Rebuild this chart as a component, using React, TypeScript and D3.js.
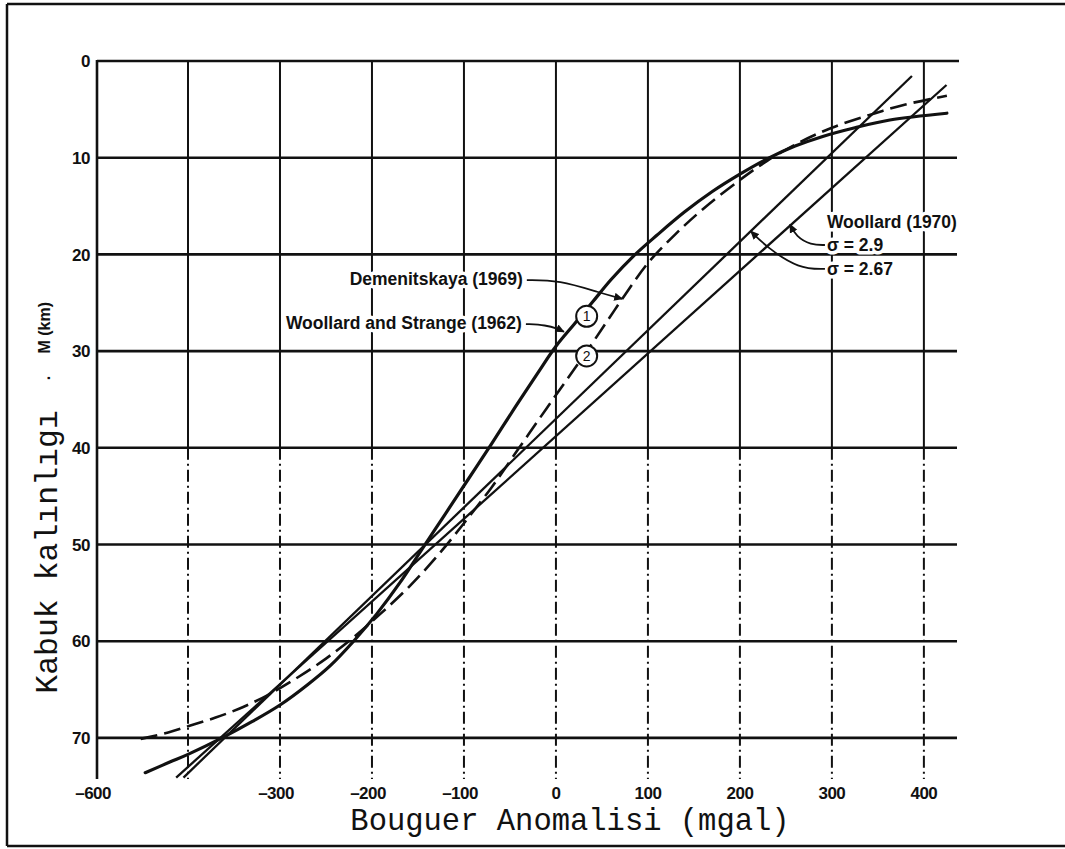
import React from "react";
import * as d3 from "d3";

type Pt = [number, number];

// Axis values
const xGridValues = [-400, -300, -200, -100, 0, 100, 200, 300, 400];
const xTickLabels = [-600, -300, -200, -100, 0, 100, 200, 300, 400];
const yTickValues = [0, 10, 20, 30, 40, 50, 60, 70];

// Series: [Bouguer anomaly (mgal), crustal thickness (km)]
const woollardStrange1962: Pt[] = [
  [-494, 73.6], [-440, 72.5], [-400, 71.7], [-363, 70.0], [-330, 68.3], [-300, 66.6],
  [-270, 64.5], [-245, 62.5], [-220, 60.0], [-195, 57.2], [-170, 54.0], [-145, 50.4],
  [-120, 46.8], [-95, 43.2], [-70, 39.6], [-45, 35.9], [-20, 32.3], [0, 29.5], [20, 27.2],
  [40, 24.9], [60, 22.6], [84, 20.2], [110, 18.0], [140, 15.6], [170, 13.5], [200, 11.7],
  [230, 10.1], [260, 8.8], [290, 7.8], [325, 6.9], [363, 6.1], [425, 5.4],
];

const demenitskaya1969: Pt[] = [
  [-504, 70.1], [-440, 69.4], [-400, 68.8], [-370, 67.9], [-340, 66.8], [-310, 65.4],
  [-280, 63.7], [-250, 61.8], [-220, 59.6], [-190, 57.1], [-160, 54.4], [-130, 51.3],
  [-100, 47.8], [-70, 44.1], [-40, 40.0], [-10, 35.9], [10, 33.2], [33, 30.1], [55, 27.0],
  [75, 24.2], [100, 20.9], [130, 17.9], [160, 15.3], [200, 12.3], [230, 10.3], [265, 8.4],
  [300, 6.9], [340, 5.6], [380, 4.5], [425, 3.6],
];

const woollard1970Sigma267: Pt[] = [[-410, 74.1], [387, 1.55]];
const woollard1970Sigma29: Pt[] = [[-426, 74.1], [424.6, 2.48]];

function xAtDepth(series: Pt[], depth: number): number {
  for (let i = 0; i < series.length - 1; i++) {
    const a = series[i];
    const b = series[i + 1];
    const lo = Math.min(a[1], b[1]);
    const hi = Math.max(a[1], b[1]);
    if (depth >= lo && depth <= hi) {
      const t = (depth - a[1]) / (b[1] - a[1]);
      return a[0] + t * (b[0] - a[0]);
    }
  }
  return series[series.length - 1][0];
}

const SANS = "'Liberation Sans', Arial, Helvetica, sans-serif";
const MONO = "'Liberation Mono', 'Courier New', Courier, monospace";

export default function App() {
  const W = 1065;
  const H = 849;
  const x = d3.scaleLinear().domain([-600, -400, 436]).range([97, 188, 957]);
  const y = d3.scaleLinear().domain([0, 74.25]).range([61, 779]);
  const xLeft = x(-600);
  const xRight = x(436);
  const yTop = y(0);
  const yBottom = y(74.25);
  const ySplit = y(40);

  const curve = d3
    .line<Pt>()
    .x((d) => x(d[0]))
    .y((d) => y(d[1]))
    .curve(d3.curveCatmullRom.alpha(0.5));
  const straight = d3
    .line<Pt>()
    .x((d) => x(d[0]))
    .y((d) => y(d[1]));
  const leader = d3.line<Pt>().curve(d3.curveBasis);

  // Annotation anchors
  const demLx = x(-36), demLy = y(22.55);
  const demTipD = 24.6;
  const demTx = x(xAtDepth(demenitskaya1969, demTipD)), demTy = y(demTipD);

  const wsLx = x(-37), wsLy = y(27.1);
  const wsTipD = 28.0;
  const wsTx = x(xAtDepth(woollardStrange1962, wsTipD)) - 4, wsTy = y(wsTipD);

  const wLx = x(294.6);
  const wTitleY = y(16.65);
  const s29Y = y(19.03);
  const s267Y = y(21.5);
  const s29TipD = 16.9;
  const s29Tx = x(xAtDepth(woollard1970Sigma29, s29TipD)) + 1, s29Ty = y(s29TipD);
  const s267TipD = 17.6;
  const s267Tx = x(xAtDepth(woollard1970Sigma267, s267TipD)) + 1, s267Ty = y(s267TipD);

  const c1 = { cx: x(33.4), cy: y(26.4) };
  const c2 = { cx: x(33.4), cy: y(30.5) };

  const halo = { stroke: "#fff", strokeWidth: 7, paintOrder: "stroke" as const, strokeLinejoin: "round" as const };

  return (
    <svg
      width={W}
      height={H}
      viewBox={`0 0 ${W} ${H}`}
      style={{ position: "fixed", left: 0, top: 0, background: "#fff" }}
    >
      <defs>
        <marker id="arr" viewBox="0 0 10 10" refX="9" refY="5" markerWidth="5" markerHeight="5" orient="auto">
          <path d="M0,0.5 L10,5 L0,9.5 z" fill="#111" />
        </marker>
      </defs>
      <rect x={0} y={0} width={W} height={H} fill="#fff" />

      {/* outer frame */}
      <g stroke="#111" strokeWidth={2.5} fill="none">
        <line x1={7} y1={4} x2={W} y2={4} />
        <line x1={7} y1={4} x2={7} y2={846} />
        <line x1={7} y1={846} x2={W} y2={846} />
      </g>

      {/* vertical grid */}
      <g stroke="#111" strokeWidth={2}>
        {xGridValues.map((v) => (
          <g key={`vg${v}`}>
            <line x1={x(v)} x2={x(v)} y1={yTop} y2={ySplit} />
            <line x1={x(v)} x2={x(v)} y1={ySplit} y2={yBottom} strokeDasharray="12,4,2,4" />
          </g>
        ))}
        <line x1={xLeft} x2={xLeft} y1={yTop - 1} y2={yBottom} strokeWidth={2.6} />
      </g>

      {/* horizontal grid */}
      <g stroke="#111" strokeWidth={2.6}>
        {yTickValues.map((v) => (
          <line key={`hg${v}`} x1={xLeft} x2={v === 0 ? xRight + 2 : xRight} y1={y(v)} y2={y(v)} />
        ))}
      </g>

      {/* y tick labels */}
      <g fontFamily={SANS} fontWeight="bold" fontSize={17} fill="#111" letterSpacing={-0.5}>
        {yTickValues.map((v) => (
          <text key={`yt${v}`} x={90} y={y(v)} dy="0.36em" textAnchor="end">
            {v}
          </text>
        ))}
      </g>

      {/* x tick labels */}
      <g fontFamily={SANS} fontWeight="bold" fontSize={17} fill="#111" letterSpacing={-0.5}>
        {xTickLabels.map((v) =>
          v < 0 ? (
            <text key={`xt${v}`} x={x(v) + 14} y={799} textAnchor="end">
              {"\u2013" + Math.abs(v)}
            </text>
          ) : (
            <text key={`xt${v}`} x={x(v)} y={799} textAnchor="middle">
              {v}
            </text>
          )
        )}
      </g>

      {/* axis titles */}
      <text x={570} y={830} textAnchor="middle" fontFamily={MONO} fontSize={30.5} fill="#111">
        Bouguer Anomalisi (mgal)
      </text>
      <text
        transform={`translate(57, 552) rotate(-90)`}
        textAnchor="middle"
        fontFamily={MONO}
        fontSize={31.5}
        fill="#111"
      >
        Kabuk kalınlıgı
      </text>
      <text
        transform={`translate(50, 302) rotate(-90)`}
        textAnchor="end"
        fontFamily={SANS}
        fontWeight="bold"
        fontSize={16}
        fill="#111"
      >
        M (km)
      </text>
      <text
        transform={`translate(50, 378) rotate(-90)`}
        textAnchor="middle"
        fontFamily={SANS}
        fontWeight="bold"
        fontSize={16}
        fill="#111"
      >
        .
      </text>

      {/* series */}
      <path d={straight(woollard1970Sigma267) || ""} fill="none" stroke="#111" strokeWidth={2.3} />
      <path d={straight(woollard1970Sigma29) || ""} fill="none" stroke="#111" strokeWidth={2.3} />
      <path
        d={curve(demenitskaya1969) || ""}
        fill="none"
        stroke="#111"
        strokeWidth={2.6}
        strokeDasharray="17,7"
      />
      <path d={curve(woollardStrange1962) || ""} fill="none" stroke="#111" strokeWidth={3.2} strokeLinecap="round" />

      {/* numbered circles */}
      {[{ c: c1, t: "1" }, { c: c2, t: "2" }].map(({ c, t }) => (
        <g key={t}>
          <circle cx={c.cx} cy={c.cy} r={10.5} fill="#fff" stroke="#111" strokeWidth={2} />
          <text x={c.cx} y={c.cy} dy="0.36em" textAnchor="middle" fontFamily={SANS} fontSize={14} fill="#111">
            {t}
          </text>
        </g>
      ))}

      {/* annotations */}
      <g fontFamily={SANS} fontWeight="bold" fontSize={17.5} fill="#111">
        <text x={demLx} y={demLy} dy="0.36em" textAnchor="end" {...halo}>
          Demenitskaya (1969)
        </text>
        <text x={wsLx} y={wsLy} dy="0.36em" textAnchor="end" {...halo}>
          Woollard and Strange (1962)
        </text>
        <text x={wLx} y={wTitleY} dy="0.36em" textAnchor="start" {...halo}>
          Woollard (1970)
        </text>
        <text x={wLx} y={s29Y} dy="0.36em" textAnchor="start" {...halo}>
          σ = 2.9
        </text>
        <text x={wLx} y={s267Y} dy="0.36em" textAnchor="start" {...halo}>
          σ = 2.67
        </text>
      </g>

      {/* leaders */}
      <g fill="none" stroke="#111" strokeWidth={1.8}>
        <path
          d={leader([[demLx + 4, demLy + 1], [demLx + 36, demLy + 1], [demTx - 22, demTy - 6], [demTx, demTy]]) || ""}
          markerEnd="url(#arr)"
        />
        <path
          d={leader([[wsLx + 4, wsLy + 1], [wsLx + 24, wsLy + 2], [wsTx - 6, wsTy - 3], [wsTx, wsTy]]) || ""}
          markerEnd="url(#arr)"
        />
        <path
          d={leader([[wLx - 2, s29Y], [wLx - 16, s29Y], [s29Tx + 6, s29Ty + 12], [s29Tx, s29Ty]]) || ""}
          markerEnd="url(#arr)"
        />
        <path
          d={leader([[wLx - 2, s267Y], [wLx - 28, s267Y], [s267Tx + 16, s267Ty + 16], [s267Tx, s267Ty]]) || ""}
          markerEnd="url(#arr)"
        />
      </g>
    </svg>
  );
}
